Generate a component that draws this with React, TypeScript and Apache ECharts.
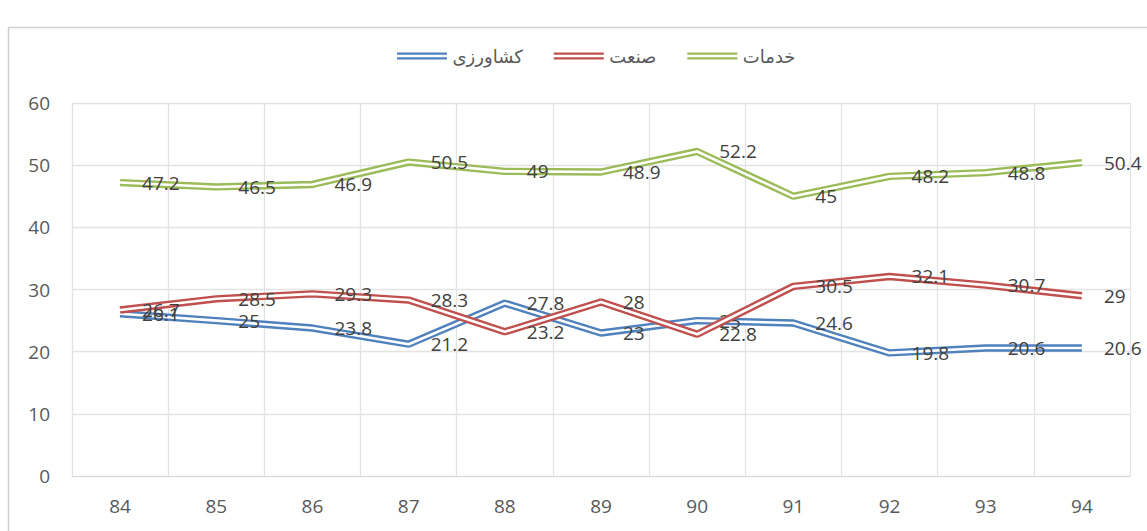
import React, { useEffect, useRef } from "react";
import * as echarts from "echarts";

const years = ["84", "85", "86", "87", "88", "89", "90", "91", "92", "93", "94"];
const agriculture = [26.1, 25, 23.8, 21.2, 27.8, 23, 25, 24.6, 19.8, 20.6, 20.6];
const industry = [26.7, 28.5, 29.3, 28.3, 23.2, 28, 22.8, 30.5, 32.1, 30.7, 29];
const services = [47.2, 46.5, 46.9, 50.5, 49, 48.9, 52.2, 45, 48.2, 48.8, 50.4];
const names = ["کشاورزی", "صنعت", "خدمات"];
const colors = ["#4f81bd", "#c0504d", "#9bbb59"];

const FONT = "'Open Sans', 'DejaVu Sans', sans-serif";

export default function App() {
  const ref = useRef<HTMLDivElement>(null);
  useEffect(() => {
    if (!ref.current) return;
    const chart = echarts.init(ref.current, null, { renderer: "svg" });
    const all = [agriculture, industry, services];
    const series: any[] = [];
    all.forEach((vals, idx) => {
      series.push({
        name: names[idx],
        type: "line",
        data: vals,
        symbol: "none",
        lineStyle: { color: colors[idx], width: 7.4 },
        itemStyle: { color: colors[idx] },
        z: 2 + idx,
      });
      series.push({
        name: names[idx] + "_inner",
        type: "line",
        data: vals,
        symbol: "circle",
        symbolSize: 0.01,
        showSymbol: true,
        itemStyle: { color: "#ffffff" },
        lineStyle: { color: "#ffffff", width: 2.6 },
        label: {
          show: true,
          position: "right",
          distance: 22,
          color: "#404040",
          opacity: 1,
          fontSize: 19,
          fontFamily: FONT,
        },
        labelLayout: { hideOverlap: false },
        silent: true,
        z: 2 + idx,
      });
    });
    chart.setOption({
      animation: false,
      backgroundColor: "#ffffff",
      graphic: [
        {
          type: "rect",
          shape: { x: 8.5, y: 27.5, width: 1300, height: 700 },
          style: { fill: "none", stroke: "#d0d0d0", lineWidth: 1.5 },
          silent: true,
          z: 0,
        },
      ],
      legend: {
        data: names.map((n) => ({ name: n })),
        left: 392,
        top: 42,
        itemWidth: 51,
        itemHeight: 7,
        itemGap: 31,
        icon: "path://M0,0H50V2.3H0Z M0,4.7H50V7H0Z",
        textStyle: { color: "#595959", fontSize: 18, fontFamily: FONT },
      },
      grid: { left: 72, right: 17, top: 103, bottom: 55 },
      xAxis: {
        type: "category",
        data: years,
        boundaryGap: true,
        axisLine: { show: true, lineStyle: { color: "#d9d9d9", width: 1 } },
        axisTick: { show: false },
        splitLine: { show: true, lineStyle: { color: "#e3e3e3", width: 1.3 } },
        axisLabel: { color: "#595959", fontSize: 19, fontFamily: FONT, margin: 20 },
      },
      yAxis: {
        type: "value",
        min: 0,
        max: 60,
        interval: 10,
        axisLine: { show: false },
        axisTick: { show: false },
        splitLine: { lineStyle: { color: "#e3e3e3", width: 1.3 } },
        axisLabel: { color: "#595959", fontSize: 19, fontFamily: FONT, margin: 22 },
      },
      series,
    });
    return () => chart.dispose();
  }, []);
  return (
    <div
      ref={ref}
      style={{ position: "fixed", left: 0, top: 0, width: 1147, height: 531 }}
    />
  );
}
